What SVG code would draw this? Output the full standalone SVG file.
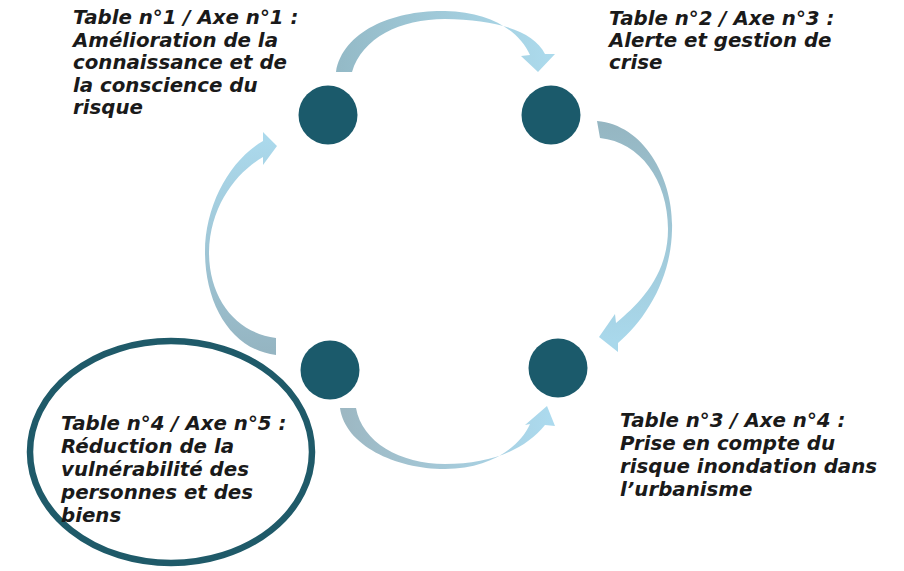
<svg xmlns="http://www.w3.org/2000/svg" width="904" height="571" viewBox="0 0 904 571">
  <style>
    .dot { fill: #1b5a6b; }
    .lbl { font-family: "DejaVu Sans", "Liberation Sans", sans-serif; font-size: 19.8px; font-weight: bold; font-style: italic; fill: #1a1a1a; }
    .hl { fill: none; stroke: #1f5a69; stroke-width: 6.5; }
  </style>
  <defs>
    <linearGradient id="gTop" gradientUnits="userSpaceOnUse" x1="340" y1="70" x2="550" y2="60">
      <stop offset="0" stop-color="#94bac7"/>
      <stop offset="1" stop-color="#acdaec"/>
    </linearGradient>
    <linearGradient id="gRight" gradientUnits="userSpaceOnUse" x1="600" y1="125" x2="605" y2="340">
      <stop offset="0" stop-color="#95b6c2"/>
      <stop offset="1" stop-color="#a9d8eb"/>
    </linearGradient>
    <linearGradient id="gLeft" gradientUnits="userSpaceOnUse" x1="275" y1="350" x2="275" y2="140">
      <stop offset="0" stop-color="#95b5c2"/>
      <stop offset="1" stop-color="#abd9ec"/>
    </linearGradient>
    <linearGradient id="gBottom" gradientUnits="userSpaceOnUse" x1="345" y1="410" x2="550" y2="410">
      <stop offset="0" stop-color="#9db8c3"/>
      <stop offset="1" stop-color="#acdaee"/>
    </linearGradient>
  </defs>
  <rect width="904" height="571" fill="#ffffff"/>

  <g id="connectors">
    <path id="arrow-1-2" fill="url(#gTop)" d="M 336,72 C 343,30 395,10 445,11 C 492,12 520,32 530,55 L 521,56 L 538,72 L 555,54 L 545,54 C 533,30 495,20 445,19 C 400,19 362,38 352,72 Z"/>
    <path id="arrow-2-3" fill="url(#gRight)" d="M 597,121 C 645,125 674,180 672,230 C 671,280 645,320 618,343 L 618,352 L 599,337 L 615,314 L 616,323 C 640,303 668,275 668,229 C 668,180 640,142 600,138 Z"/>
    <path id="arrow-4-1" fill="url(#gLeft)" d="M 276,355 C 232,350 205,305 205,252 C 205,205 230,160 263,141 L 263,132 L 277,146 L 263,165 L 263,157 C 237,172 210,205 209,252 C 209,300 237,333 276,338 Z"/>
    <path id="arrow-4-3" fill="url(#gBottom)" d="M 340,408 C 345,445 395,469 445,469 C 490,469 520,447 530,424 L 525,425 L 547,406 L 555,426 L 545,425 C 525,450 490,464 445,464 C 400,464 362,442 356,408 Z"/>
  </g>

  <g id="node-1">
    <circle class="dot" cx="328" cy="115" r="29.5"/>
    <text class="lbl">
      <tspan x="73" y="24">Table n°1 / Axe n°1 :</tspan>
      <tspan x="73" y="46.5">Amélioration de la</tspan>
      <tspan x="73" y="69">connaissance et de</tspan>
      <tspan x="73" y="91.5">la conscience du</tspan>
      <tspan x="73" y="114">risque</tspan>
    </text>
  </g>

  <g id="node-2">
    <circle class="dot" cx="551" cy="115" r="29.5"/>
    <text class="lbl">
      <tspan x="609" y="25">Table n°2 / Axe n°3 :</tspan>
      <tspan x="609" y="47">Alerte et gestion de</tspan>
      <tspan x="609" y="69">crise</tspan>
    </text>
  </g>

  <g id="node-3">
    <circle class="dot" cx="558" cy="368" r="29.5"/>
    <text class="lbl">
      <tspan x="620" y="427">Table n°3 / Axe n°4 :</tspan>
      <tspan x="620" y="450">Prise en compte du</tspan>
      <tspan x="620" y="473">risque inondation dans</tspan>
      <tspan x="620" y="496">l’urbanisme</tspan>
    </text>
  </g>

  <g id="node-4">
    <circle class="dot" cx="330" cy="370" r="29.5"/>
    <ellipse class="hl" cx="171" cy="452" rx="141" ry="111"/>
    <text class="lbl">
      <tspan x="61" y="430">Table n°4 / Axe n°5 :</tspan>
      <tspan x="61" y="453">Réduction de la</tspan>
      <tspan x="61" y="476">vulnérabilité des</tspan>
      <tspan x="61" y="499">personnes et des</tspan>
      <tspan x="61" y="522">biens</tspan>
    </text>
  </g>
</svg>
